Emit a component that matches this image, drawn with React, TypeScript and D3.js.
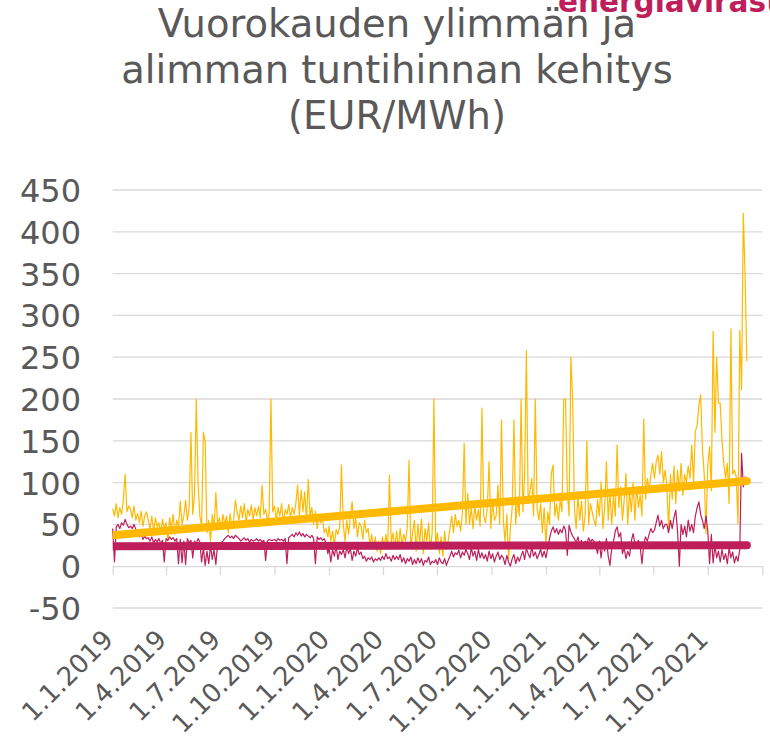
import React, { useEffect, useRef } from "react";
import * as d3 from "d3";

// chart texts
const titleLines = ["Vuorokauden ylimmän ja", "alimman tuntihinnan kehitys", "(EUR/MWh)"];
const logoText = "energiavirasto";
const yTicks = [-50, 0, 50, 100, 150, 200, 250, 300, 350, 400, 450];
const xTickLabels = [
  "1.1.2019", "1.4.2019", "1.7.2019", "1.10.2019",
  "1.1.2020", "1.4.2020", "1.7.2020", "1.10.2020",
  "1.1.2021", "1.4.2021", "1.7.2021", "1.10.2021",
];
const axisStart = "1.1.2019";
const axisEnd = "1.1.2022";

// daily max / min hourly price, sampled every 3rd day from 1.1. of each year
const sampleStepDays = 3;

const max2019 = [
  69, 60, 75, 58, 70, 62, 80, 110, 65, 72,
  68, 58, 72, 55, 63, 52, 66, 48, 60, 65,
  55, 45, 60, 42, 58, 47, 52, 40, 56, 44,
  52, 30, 58, 45, 62, 38, 55, 48, 78, 50,
  60, 79, 55, 70, 160, 62, 85, 200, 101, 60,
  48, 160, 150, 40, 55, 30, 62, 45, 88, 50,
  58, 45, 62, 50, 60, 40, 63, 48, 55, 79,
  65, 55, 72, 58, 75, 52, 68, 60, 73, 56,
  70, 60, 72, 58, 97, 62, 68, 55, 63, 200,
  65, 72, 55, 70, 60, 75, 50, 68, 62, 74,
  58, 70, 62, 75, 97, 60, 91, 65, 89, 55,
  104, 60, 70, 50, 66, 45, 62, 52, 58, 40,
  45, 35,
];
const max2020 = [
  48, 30, 42, 25, 44, 38, 47, 121,
  50, 30, 55, 38, 60, 77, 45, 58, 35, 52,
  48, 32, 55, 40, 45, 25, 38, 20, 35, 18,
  30, 15, 35, 22, 38, 20, 109, 28, 40, 22,
  42, 20, 45, 25, 38, 30, 47, 127, 22, 40,
  55, 18, 50, 28, 57, 15, 45, 30, 52, 20,
  40, 200, 25, 40, 15, 35, 12, 42, 20, 30,
  45, 60, 40, 62, 48, 55, 42, 63, 147, 50,
  87, 50, 70, 45, 72, 55, 68, 48, 189, 60,
  52, 70, 125, 45, 78, 55, 60, 97, 50, 175,
  55, 30, 62, 9, 45, 70, 175, 50, 80, 60,
  200, 65, 111, 258, 75, 90, 105, 60, 200, 70,
  55, 75, 40, 70,
];
const max2021 = [
  25, 65, 50, 111, 121, 60,
  75, 55, 80, 65, 200, 200, 90, 60, 250, 200,
  70, 45, 85, 55, 78, 42, 60, 150, 50, 75,
  65, 55,
  48, 80, 60, 101, 45, 70, 125, 55, 90, 50,
  85, 60, 145, 70, 95, 55, 80, 111, 50, 90,
  65, 100, 55, 95, 70, 85, 60, 176, 80, 105,
  90, 110, 123, 105, 125, 133, 110, 137, 100, 115,
  95, 43, 110, 80, 120, 75, 115, 90, 123, 85,
  110, 100, 120, 105, 145, 100, 161, 169, 192, 205,
  140, 110, 39, 120, 143, 90, 281, 160, 250, 195,
  195, 150, 123, 105, 123, 75, 284, 110, 115, 107,
  51, 282, 211, 422, 346, 245,
];

const min2019 = [
  45, 5, 47, 50, 45, 52, 49, 56, 50, 46,
  48, 45, 50, 44, 38, 35, 39, 32, 36, 33,
  34, 30, 35, 28, 32, 29, 33, 27, 31, 5,
  33, 31, 35, 32, 34, 30, 33, 3, 32, 4,
  30, 2, 33, 28, 31, 10, 30, 27, 33, 29,
  5, 22, 1, 18, 3, 25, 8, 20, 2, 27,
  27, 28, 30, 33, 35, 37, 34, 36, 33, 37,
  35, 33, 30, 32, 34, 31, 33, 29, 32, 30,
  31, 33, 30, 32, 29, 31, 7, 30, 32, 31,
  31, 32, 30, 33, 31, 32, 30, 33, 3, 34,
  36, 38, 35, 40, 37, 41, 36, 39, 35, 38,
  36, 34, 37, 33, 3, 35, 32, 34, 31, 33,
  27, 15,
];
const min2020 = [
  22, 5, 20, 12, 24, 8, 18, 14,
  20, 10, 23, 15, 21, 7, 18, 12, 22, 14,
  17, 9, 12, 6, 10, 8, 11, 5, 9, 7,
  10, 7, 12, 8, 15, 9, 11, 6, 13, 8,
  12, 8, 14, 5, 10, 3, 9, 6, 11, 2,
  8, 3, 10, 4, 9, 1, 7, 5, 11, 2,
  6, 4, 8, 2, 10, 5, 3, 9, 1, 7,
  12, 18, 11, 16, 14, 19, 10, 17, 13, 20,
  15, 8, 22, 12, 18, 7, 20, 10, 16, 9,
  14, 6, 18, 9, 15, 5, 12, 17, 8, 13,
  10, 2, 13, 5, 0, 9, 14, 3, 11, 6,
  12, 18, 8, 21, 15, 10, 23, 12, 17, 9,
  14, 20, 11, 18,
];
const min2021 = [
  10, 22, 33, 42, 47, 40,
  45, 38, 44, 40, 48, 43, 13, 49, 41, 36,
  33, 28, 35, 25, 31, 23, 30, 27, 34, 29,
  32, 30,
  25, 15, 30, 10, 28, 18, 33, 12, 1, 22,
  30, 42, 47, 35, 40, 15, 22, 9, 18, 12,
  30, 39, 28, 25, 31, 23, 3, 27, 35, 30,
  38, 45, 40, 43, 52, 61, 48, 55, 45, 50,
  50, 40, 55, 45, 58, 67, 42, 0, 50, 38,
  48, 35, 55, 42, 50, 40, 60, 70, 77, 62,
  55, 45, 60, 42, 3, 38, 4, 25, 10, 18,
  5, 20, 8, 15, 3, 22, 10, 17, 4, 12,
  6, 20, 135, 95, 107, 100,
];

// linear trendlines, start and end value
const maxTrend = [37, 102];
const minTrend = [24, 25];

const maxColor = "#FFB900";
const minColor = "#BE1E5A";
const textColor = "#595959";
const gridColor = "#D9D9D9";

const parseDate = d3.timeParse("%d.%m.%Y");

function toPoints(year: number, values: number[]): [Date, number][] {
  const start = new Date(year, 0, 1);
  return values.map((v, i) => [d3.timeDay.offset(start, i * sampleStepDays), v]);
}

function PriceChart() {
  const svgRef = useRef<SVGSVGElement>(null);

  useEffect(() => {
    const svg = d3.select(svgRef.current);
    svg.selectAll("*").remove();

    const width = 770;
    const height = 746;
    const left = 112.7;
    const right = 762.3;

    const x = d3.scaleTime()
      .domain([parseDate(axisStart)!, parseDate(axisEnd)!])
      .range([left, right]);
    const y = d3.scaleLinear().domain([-50, 450]).range([608, 190]);

    const font = "DejaVu Sans, Verdana, sans-serif";

    // title
    svg.append("g")
      .selectAll("text")
      .data(titleLines)
      .join("text")
      .attr("x", 397)
      .attr("y", (d, i) => 36.5 + i * 46)
      .attr("text-anchor", "middle")
      .attr("font-family", font)
      .attr("font-size", 38.5)
      .attr("fill", textColor)
      .text(d => d);

    // logo text, cut by the top edge
    svg.append("text")
      .attr("x", 558)
      .attr("y", 11.5)
      .attr("font-family", font)
      .attr("font-weight", "bold")
      .attr("font-size", 29.5)
      .attr("fill", minColor)
      .text(logoText);

    // gridlines + y labels
    svg.append("g")
      .selectAll("line")
      .data(yTicks.filter(t => t !== 0))
      .join("line")
      .attr("x1", left)
      .attr("x2", right)
      .attr("y1", d => y(d))
      .attr("y2", d => y(d))
      .attr("stroke", gridColor)
      .attr("stroke-width", 1.3);

    svg.append("g")
      .selectAll("text")
      .data(yTicks)
      .join("text")
      .attr("x", 81)
      .attr("y", d => y(d) + 12)
      .attr("text-anchor", "end")
      .attr("font-family", font)
      .attr("font-size", 32)
      .attr("fill", textColor)
      .text(d => d);

    // x axis at zero
    const tickDates = [...xTickLabels, axisEnd].map(s => parseDate(s)!);
    const xAxis = d3.axisBottom(x)
      .tickValues(tickDates)
      .tickSize(9)
      .tickSizeOuter(0)
      .tickFormat(() => "");
    const gx = svg.append("g")
      .attr("transform", `translate(0, ${y(0)})`)
      .call(xAxis);
    gx.select(".domain").attr("stroke", gridColor).attr("stroke-width", 1.3);
    gx.selectAll(".tick line").attr("stroke", gridColor).attr("stroke-width", 1.3);

    svg.append("g")
      .selectAll("text")
      .data(xTickLabels)
      .join("text")
      .attr("transform", d => `translate(${x(parseDate(d)!) + 2}, 641) rotate(-45)`)
      .attr("text-anchor", "end")
      .attr("font-family", font)
      .attr("font-size", 26)
      .attr("fill", textColor)
      .text(d => d);

    // series
    const maxSeries = [
      ...toPoints(2019, max2019),
      ...toPoints(2020, max2020),
      ...toPoints(2021, max2021),
    ];
    const minSeries = [
      ...toPoints(2019, min2019),
      ...toPoints(2020, min2020),
      ...toPoints(2021, min2021),
    ];

    const line = d3.line<[Date, number]>()
      .x(d => x(d[0]))
      .y(d => y(d[1]));

    svg.append("path")
      .datum(maxSeries)
      .attr("d", line)
      .attr("fill", "none")
      .attr("stroke", maxColor)
      .attr("stroke-width", 1.2)
      .attr("stroke-linejoin", "round");

    svg.append("path")
      .datum(minSeries)
      .attr("d", line)
      .attr("fill", "none")
      .attr("stroke", minColor)
      .attr("stroke-width", 1.2)
      .attr("stroke-linejoin", "round");

    // trendlines
    svg.append("clipPath")
      .attr("id", "plot-clip")
      .append("rect")
      .attr("x", left)
      .attr("y", 0)
      .attr("width", width - left)
      .attr("height", height);

    const firstDate = maxSeries[0][0];
    const lastDate = maxSeries[maxSeries.length - 1][0];
    const trends: [string, number[]][] = [[maxColor, maxTrend], [minColor, minTrend]];

    svg.append("g")
      .attr("clip-path", "url(#plot-clip)")
      .selectAll("path")
      .data(trends)
      .join("path")
      .attr("d", d => line([[firstDate, d[1][0]], [lastDate, d[1][1]]]))
      .attr("fill", "none")
      .attr("stroke", d => d[0])
      .attr("stroke-width", 8)
      .attr("stroke-linecap", "round");
  }, []);

  return (
    <svg
      ref={svgRef}
      width={770}
      height={746}
      style={{ position: "absolute", left: 0, top: 0, background: "#fff" }}
    />
  );
}

export default function App() {
  return <PriceChart />;
}
